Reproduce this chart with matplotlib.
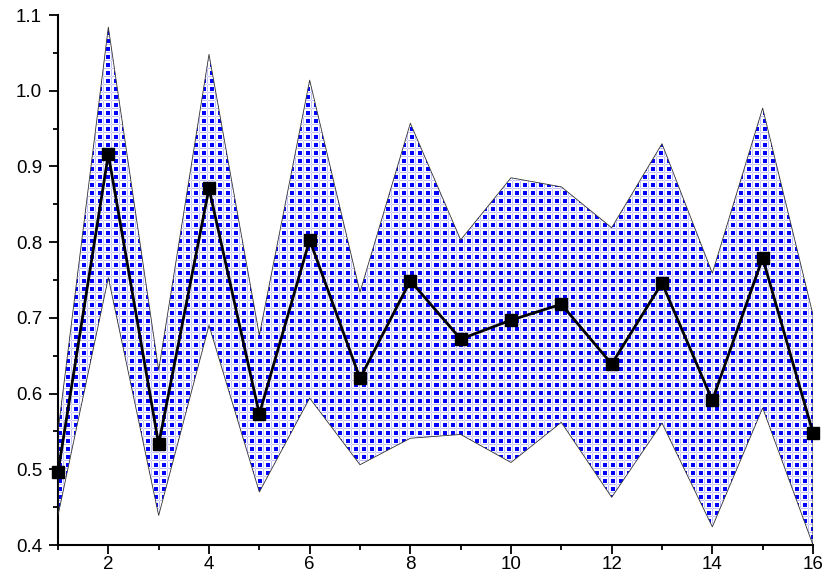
import numpy as np
import matplotlib
matplotlib.use("Agg")
import matplotlib.pyplot as plt
from matplotlib.ticker import MultipleLocator

# dados
x = list(range(1, 17))
media = [0.496, 0.916, 0.533, 0.871, 0.573, 0.803, 0.620, 0.749,
         0.672, 0.697, 0.718, 0.639, 0.746, 0.591, 0.779, 0.548]
superior = [0.550, 1.084, 0.631, 1.048, 0.677, 1.014, 0.734, 0.957,
            0.803, 0.885, 0.873, 0.819, 0.930, 0.759, 0.977, 0.704]
inferior = [0.439, 0.753, 0.439, 0.690, 0.470, 0.594, 0.506, 0.541,
            0.546, 0.509, 0.562, 0.463, 0.561, 0.424, 0.581, 0.400]

plt.rcParams['font.family'] = ['Liberation Sans', 'DejaVu Sans']

fig = plt.figure(figsize=(8.30, 5.87), dpi=100)
ax = fig.add_axes([58 / 830, 42 / 587, 755 / 830, 530 / 587])
ax.set_xlim(1, 16)
ax.set_ylim(0.4, 1.1)

# textura quadriculada (estilo Origin), em pixels
tile = np.ones((8, 8, 3))
tile[5, :, :] = [0.75, 0.75, 1.0]
tile[:, 5, :] = [0.75, 0.75, 1.0]
tile[5, 5, :] = [1.0, 1.0, 1.0]
tile[0:4, 0:4, :] = [0.0, 0.0, 1.0]
textura = np.tile(tile, (530 // 8 + 1, 755 // 8 + 1, 1))[:530, :755]

banda = ax.fill_between(x, inferior, superior, facecolor='none',
                        edgecolor='#333333', linewidth=0.6, zorder=3)
img = ax.imshow(textura, extent=(1, 16, 0.4, 1.1), aspect='auto',
                interpolation='nearest', zorder=2)
img.set_clip_path(banda.get_paths()[0], transform=ax.transData)

ax.plot(x, media, color='black', linewidth=2, marker='s', markersize=8,
        markerfacecolor='black', zorder=4, clip_on=False)

ax.spines['top'].set_visible(False)
ax.spines['right'].set_visible(False)
ax.spines['left'].set_linewidth(1.5)
ax.spines['bottom'].set_linewidth(1.5)

ax.xaxis.set_major_locator(MultipleLocator(2))
ax.xaxis.set_minor_locator(MultipleLocator(1))
ax.yaxis.set_major_locator(MultipleLocator(0.1))
ax.yaxis.set_minor_locator(MultipleLocator(0.05))
ax.tick_params(which='major', direction='out', length=6.5, width=1.3,
               labelsize=13.5)
ax.tick_params(which='minor', direction='out', length=3.6, width=1.3)
ax.tick_params(axis='x', which='major', pad=1.5)
ax.tick_params(axis='y', which='major', pad=5)
ax.set_xticks([2, 4, 6, 8, 10, 12, 14, 16])
ax.yaxis.set_major_formatter(plt.FuncFormatter(lambda v, p: f"{v:.1f}"))

fig.savefig('out.png', dpi=100)
